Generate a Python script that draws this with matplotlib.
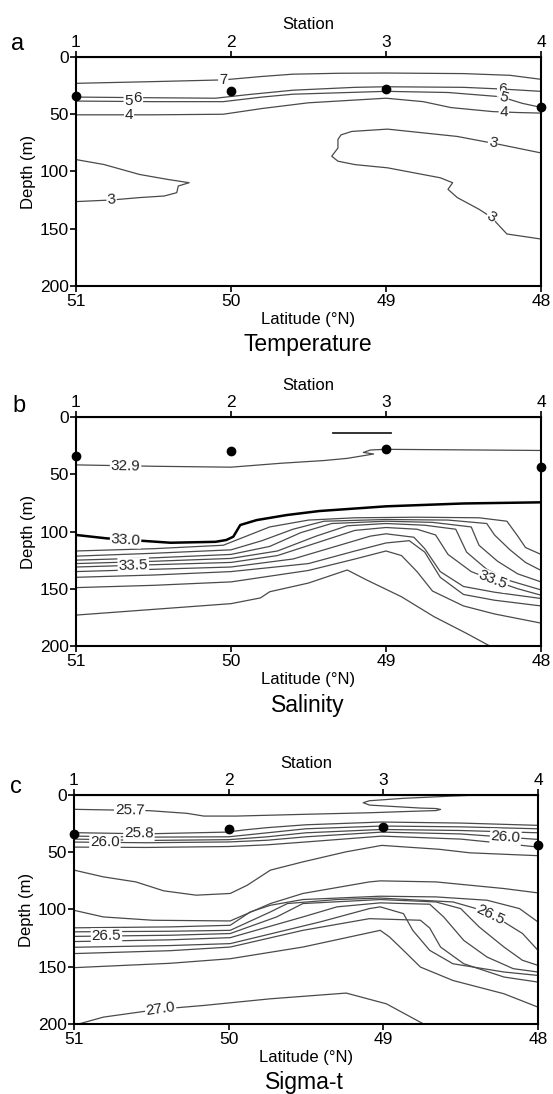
import numpy as np
import matplotlib
matplotlib.use('Agg')
import matplotlib.pyplot as plt

plt.rcParams['font.family'] = ['Liberation Sans', 'DejaVu Sans']

# axes
lat_ticks = [51, 50, 49, 48]
stations = ['1', '2', '3', '4']
depth_ticks = [0, 50, 100, 150, 200]

# mixed layer depth at each station (dots)
mld_lat = [51, 50, 49, 48]
mld_depth = [34, 30, 28, 44]

# Temperature isolines (lat, depth)
temp_lines = [
    ([51, 50.5, 50.05, 49.8, 49.6, 49.3, 49, 48.5, 48.2, 48],
     [23, 21.5, 20, 17, 15, 14.2, 14, 14.5, 16, 19.5]),                      # 7
    ([51, 50.6, 50.1, 49.9, 49.6, 49.2, 49, 48.5, 48.25, 48],
     [35, 35.5, 36, 33, 29, 26.5, 26, 26.5, 28, 30]),                        # 6
    ([51, 50.5, 50.05, 49.8, 49.6, 49, 48.6, 48.26, 48.12, 48],
     [38.5, 39, 39, 35, 32.5, 30, 31, 34.7, 40.5, 44]),                      # 5
    ([51, 50.5, 50.05, 49.8, 49.5, 49, 48.76, 48.58, 48.31, 48.15, 48],
     [50.5, 50.5, 50, 45, 40, 36, 39, 44.2, 47.7, 48.5, 49]),                # 4
    ([48, 48.26, 48.54, 48.99, 49.22, 49.29, 49.31, 49.31, 49.35, 49.31, 49.2, 48.99,
      48.65, 48.57, 48.6, 48.54, 48.4, 48.32, 48.26, 48.22, 48],
     [83.8, 76.6, 69.4, 63, 65, 68, 72, 79.5, 86.7, 91, 94, 96.8,
      105.5, 109.8, 115.6, 122.8, 133, 140, 148.8, 154.6, 159]),             # 3 (right)
    ([51, 50.82, 50.59, 50.41, 50.27, 50.34, 50.35, 50.43, 50.59, 50.77, 51],
     [89.6, 93.9, 102.6, 106.9, 109.8, 112.7, 118.5, 121.4, 122.8, 124.9, 126.3]),  # 3 (left)
]
# (text, line index, latitude, crossing number)
temp_labels = [('7', 0, 50.05, 0), ('6', 1, 50.6, 0), ('5', 2, 50.66, 0), ('4', 3, 50.66, 0),
               ('6', 1, 48.25, 0), ('5', 2, 48.24, 0), ('4', 3, 48.24, 0),
               ('3', 4, 48.31, 0), ('3', 4, 48.32, 1), ('3', 5, 50.77, 1)]

# Salinity isolines
sal_329 = ([51, 50.5, 50, 49.68, 49.4, 49.25, 49.08, 49.146, 49.10, 49.006, 48.5, 48],
           [41.8, 43, 43.8, 40.4, 38, 36.1, 32.3, 30.9, 28.8, 28.2, 28.7, 29.2])
sal_330 = ([51, 50.8, 50.39, 50.1, 50.03, 49.985, 49.94, 49.834, 49.64, 49.43, 49, 48.5, 48],
           [103, 106, 109.8, 109, 107.4, 104.5, 94.3, 90, 85.6, 82.1, 78, 75.5, 74.5])
sal_lines = [
    ([51, 50.5, 50.05, 49.9, 49.75, 49.5, 49.2, 48.8, 48.4, 48.22, 48.15, 48.1, 48],
     [117, 115, 112, 104, 96, 90, 88, 87.5, 88, 91, 104, 114, 120]),          # 33.1
    ([51, 50.5, 50, 49.8, 49.6, 49.4, 49, 48.6, 48.35, 48.3, 48.2, 48.1, 48],
     [121.5, 119, 116, 108, 98, 91, 89.5, 90, 93, 103, 116, 127, 134]),       # 33.2
    ([51, 50.5, 50, 49.75, 49.55, 49.35, 49, 48.7, 48.45, 48.4, 48.28, 48.15, 48],
     [125, 123, 120, 113, 101, 93, 91, 92, 96, 112, 126, 137, 144]),          # 33.3
    ([51, 50.5, 50, 49.7, 49.45, 49.25, 49, 48.75, 48.55, 48.48, 48.35, 48.2, 48],
     [128, 126, 123.5, 117, 104, 95, 93, 94.5, 98, 118, 133, 143, 151]),      # 33.4
    ([51, 50.5, 50, 49.7, 49.45, 49.2, 49, 48.8, 48.68, 48.6, 48.45, 48.3, 48.15, 48],
     [131, 129, 127, 121, 110, 99, 96.5, 98, 103, 120, 135, 143, 150, 155.6]),  # 33.5
    ([51, 50.5, 50, 49.6, 49.3, 49.1, 49, 48.82, 48.75, 48.65, 48.5, 48.3, 48],
     [135, 133, 131, 124, 112, 104, 102, 105, 115, 135, 148, 153, 158.5]),    # 33.6
    ([51, 50.5, 50, 49.5, 49.2, 49, 48.85, 48.75, 48.65, 48.5, 48.3, 48],
     [140, 138, 135, 128, 117, 110, 108, 118, 140, 155, 160, 165]),           # 33.7
    ([51, 50.5, 50, 49.5, 49.2, 49, 48.9, 48.8, 48.7, 48.5, 48.3, 48],
     [149, 147, 144, 134, 124, 117, 121, 135, 152, 165, 172, 180]),           # 33.8
    ([51, 50.5, 50, 49.81, 49.75, 49.5, 49.25, 49.125, 48.9, 48.69, 48.48, 48.33],
     [173, 168, 163, 158, 152.6, 145, 133.6, 142.3, 157, 174.4, 189, 200]),   # 33.9
]
sal_patch = ([49.34, 48.97], [14.3, 14.3])
sal_labels = [('33.5', 4, 50.63, 0), ('33.5', 4, 48.31, 0)]

# Sigma-t isolines
sig_lines = [
    ([51, 50.51, 50.27, 50.16, 49.95, 49.52, 49.09, 48.76, 48.66, 48.63, 48.66, 48.76,
      49.09, 49.13, 49.09, 48.87, 48.55, 48.44],
     [12.5, 13.7, 16, 18.4, 18.4, 16.9, 15.5, 14, 13.6, 12.6, 11.8, 11.4,
      8.8, 6.7, 5, 2.9, 0.9, 0.3]),                                          # 25.7
    ([51, 50.53, 50.01, 49.9, 49.75, 49.5, 49.01, 48.5, 48],
     [32.9, 33.9, 32.4, 30.5, 28.5, 26, 23.6, 24.5, 26.5]),                  # 25.8
    ([51, 50.53, 50, 49.75, 49.5, 49.01, 48.5, 48],
     [35.9, 36.8, 36.5, 33, 29.5, 27.1, 27.8, 29.5]),                        # 25.9
    ([51, 50.53, 50, 49.75, 49.5, 49.01, 48.5, 48],
     [38.5, 39.7, 39, 36.5, 33, 30.1, 31, 33]),                              # 26.0
    ([51, 50.53, 50, 49.75, 49.5, 49.01, 48.5, 48.21, 48],
     [41.1, 41.7, 41, 39.5, 36.5, 32.4, 34, 36.8, 38.8]),                    # 26.1
    ([51, 50.53, 50, 49.75, 49.5, 49.01, 48.5, 48.2, 48],
     [45.5, 45.8, 45, 43.5, 41, 35.9, 38.5, 42.6, 45.5]),                    # 26.2
    ([51, 50.81, 50.6, 50.42, 50.21, 49.99, 49.88, 49.73, 49.52, 49.24, 49.01, 48.64, 48.44, 48],
     [65.6, 71.5, 75.9, 83.7, 87.5, 86, 78.8, 65.6, 58.4, 49.6, 44, 47.4, 50.5, 53]),  # 26.3
    ([51, 50.81, 50.49, 49.99, 49.88, 49.73, 49.52, 49.09, 49.02, 48.66, 48.22, 48],
     [100.7, 106.5, 109.4, 110, 103.6, 94.8, 86, 75.9, 75, 75.9, 81.7, 85.5]),  # 26.4
    ([51, 50.38, 49.99, 49.86, 49.73, 49.52, 49.02, 48.66, 48.33, 48.12, 48],
     [116, 115.2, 113.8, 102.1, 96.3, 91.3, 88.4, 89, 91.9, 99.2, 110.9]),
    ([51, 50.38, 49.99, 49.73, 49.62, 49.3, 49.02, 48.55, 48.4, 48.22, 48.1, 48],
     [119.5, 119, 118.2, 102.1, 94.8, 91.3, 90, 93.4, 99.2, 110.9, 121, 135.7]),
    ([51, 50.38, 49.99, 49.69, 49.52, 49.02, 48.66, 48.5, 48.38, 48.22, 48.1, 48],
     [123.5, 122.5, 121, 106.5, 94.8, 91.3, 93.4, 99.2, 115.3, 132.8, 144.4, 148.8]),
    ([51, 50.38, 49.99, 49.52, 49.3, 49.02, 48.7, 48.61, 48.48, 48.33, 48.16, 48],
     [128, 126.5, 124.6, 106.5, 97.7, 94.2, 95.4, 106.5, 127, 141.5, 151.7, 154.6]),
    ([51, 50.38, 49.99, 49.41, 49.09, 49.02, 48.87, 48.81, 48.7, 48.55, 48.22, 48],
     [133, 131.5, 129.8, 110.9, 99.2, 97.7, 103.6, 118.2, 135.7, 147.4, 154.6, 157.6]),
    ([51, 50.38, 49.99, 49.52, 49.09, 48.76, 48.7, 48.63, 48.48, 48.22, 48],
     [138.5, 136, 132.8, 118.2, 108, 109.4, 116.2, 132.8, 147.4, 159, 163.4]),
    ([51, 50.38, 49.99, 49.52, 49.02, 48.96, 48.87, 48.76, 48.55, 48.22, 48],
     [150.8, 147, 143, 132.8, 118.2, 124, 135.7, 150.3, 162, 173.6, 185.3]),
    ([50.97, 50.81, 50.44, 50.16, 49.73, 49.24, 48.98, 48.74],
     [200, 194, 187, 183.8, 178, 173, 182.4, 200]),                           # 27.0
]
sig_labels = [('25.7', 0, 50.64, 0), ('26.0', 4, 50.80, 0), ('25.8', 1, 50.58, 0),
              ('26.0', 4, 48.21, 0), ('26.5', 10, 50.79, 0), ('26.5', 9, 48.31, 0),
              ('27.0', 15, 50.44, 0)]

LINE_C = '#4a4a4a'
FS_TICK = 12.5
FS_LAB = 12


def put_label(ax, line, lat0, text, k=0):
    lats = np.asarray(line[0], float)
    deps = np.asarray(line[1], float)
    hits = []
    for i in range(len(lats) - 1):
        a, b = lats[i], lats[i + 1]
        if a != b and (a - lat0) * (b - lat0) <= 0:
            t = (lat0 - a) / (b - a)
            hits.append((i, deps[i] + t * (deps[i + 1] - deps[i])))
    i, d0 = hits[min(k, len(hits) - 1)]
    p1 = ax.transData.transform((lats[i], deps[i]))
    p2 = ax.transData.transform((lats[i + 1], deps[i + 1]))
    ang = np.degrees(np.arctan2(p2[1] - p1[1], p2[0] - p1[0]))
    if ang > 90:
        ang -= 180
    if ang < -90:
        ang += 180
    ax.text(lat0, d0, text, rotation=ang, rotation_mode='anchor', ha='center', va='center',
            fontsize=11, color='#222222', zorder=4,
            bbox=dict(boxstyle='square,pad=0.06', fc='white', ec='none'))


def setup(ax, letter, title, xc, letter_xy):
    ax.set_xlim(51, 48)
    ax.set_ylim(200, 0)
    ax.set_xticks(lat_ticks)
    ax.set_xticklabels([str(v) for v in lat_ticks])
    ax.set_yticks(depth_ticks)
    ax.tick_params(direction='out', length=4, width=1.2, labelsize=FS_TICK, pad=1)
    ax.tick_params(axis='x', pad=2)
    for s in ax.spines.values():
        s.set_linewidth(1.5)
    ax.set_xlabel('Latitude (°N)', fontsize=FS_LAB, labelpad=2)
    ax.set_ylabel('Depth (m)', fontsize=FS_LAB, labelpad=3)
    top = ax.secondary_xaxis('top')
    top.set_xticks(lat_ticks, labels=stations)
    top.tick_params(direction='out', length=4, width=1.2, labelsize=FS_TICK, pad=1)
    top.set_xlabel('Station', fontsize=FS_LAB, labelpad=4)
    pos = ax.get_position()
    fig.text(letter_xy[0] / 553, 1 - letter_xy[1] / 1094, letter, fontsize=17,
             ha='center', va='center')
    fig.text(xc, pos.y0 - 59 / 1094, title, fontsize=16.5, ha='center', va='center')
    ax.plot(mld_lat, mld_depth, 'o', color='black', markersize=6, clip_on=False, zorder=5)


fig = plt.figure(figsize=(5.53, 10.94), dpi=100)
ax_a = fig.add_axes([0.1374, 0.7386, 0.8409, 0.2093])
ax_b = fig.add_axes([0.1374, 0.4095, 0.8409, 0.2093])
ax_c = fig.add_axes([0.1338, 0.0640, 0.8391, 0.2093])

# a: temperature
setup(ax_a, 'a', 'Temperature', 0.557, (18, 44))
for lats, deps in temp_lines:
    ax_a.plot(lats, deps, color=LINE_C, lw=0.9)
for text, idx, lat0, k in temp_labels:
    put_label(ax_a, temp_lines[idx], lat0, text, k)

# b: salinity
setup(ax_b, 'b', 'Salinity', 0.557, (19, 406))
for lats, deps in sal_lines + [sal_329]:
    ax_b.plot(lats, deps, color=LINE_C, lw=0.9)
ax_b.plot(sal_330[0], sal_330[1], color='black', lw=1.8)
ax_b.plot(sal_patch[0], sal_patch[1], color='#222222', lw=1.3)
put_label(ax_b, sal_329, 50.68, '32.9')
put_label(ax_b, sal_330, 50.68, '33.0')
for text, idx, lat0, k in sal_labels:
    put_label(ax_b, sal_lines[idx], lat0, text, k)

# c: sigma-t
setup(ax_c, 'c', 'Sigma-t', 0.55, (16, 787))
for lats, deps in sig_lines:
    ax_c.plot(lats, deps, color=LINE_C, lw=0.9)
for text, idx, lat0, k in sig_labels:
    put_label(ax_c, sig_lines[idx], lat0, text, k)

fig.savefig('out.png', dpi=100)
